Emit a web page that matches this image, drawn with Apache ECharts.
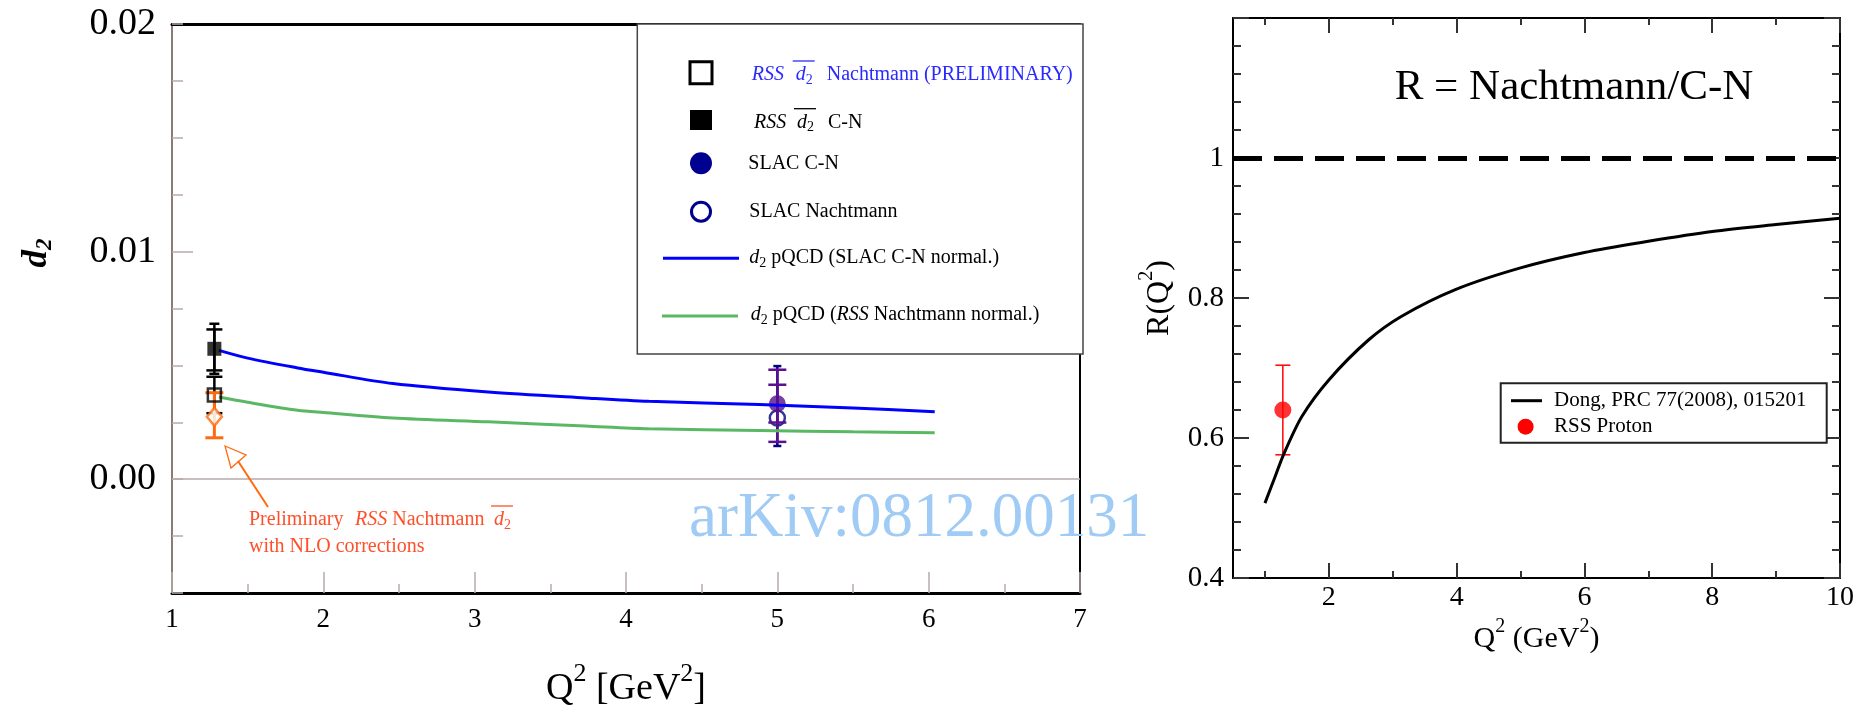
<!DOCTYPE html>
<html><head><meta charset="utf-8">
<script src="https://cdn.jsdelivr.net/npm/echarts@6/dist/echarts.min.js"></script>
<style>html,body{margin:0;padding:0;background:#fff}#c{width:1871px;height:707px}</style>
</head><body><div id="c"></div>
<script>
// ================= LEFT PANEL DATA (d2 vs Q^2) =================
const leftYLabels = [0, 0.01, 0.02];
const pqcdQ2      = [1.31, 1.5, 1.83, 2.0, 2.46, 3.09, 3.73, 4.15, 4.88, 5.5, 6.04];
const pqcdSlacCN  = [0.00566, 0.00532, 0.00489, 0.0047, 0.0042, 0.00383, 0.00357, 0.00342, 0.00328, 0.00313, 0.00296];
const pqcdRssNach = [0.00361, 0.00338, 0.00303, 0.00293, 0.00269, 0.00252, 0.00234, 0.00222, 0.00214, 0.00208, 0.00204];
const rssQ2 = 1.28;
const rssCN = 0.00573, rssCNStat = [0.00478, 0.00658], rssCNTot = [0.00463, 0.00683];
const rssNach = 0.0037, rssNachErr = [0.0029, 0.0045];
const rssNLO = 0.00274, rssNLOErr = [0.00182, 0.0038];
const slacQ2 = 5.0;
const slacCN = 0.00332, slacCNStat = [0.00249, 0.00415], slacCNTot = [0.00164, 0.00481];
const slacNach = 0.00269, slacNachErr = [0.00146, 0.00497];
const leftLongTick = [0.01];

// ================= RIGHT PANEL DATA (R vs Q^2) =================
const rightXMajor = [2, 4, 6, 8, 10];
const rightXMinor = [1, 3, 5, 7, 9];
const dongQ2 = [1.0, 1.16, 1.29, 1.58, 2.0, 2.62, 3.14, 3.98, 5.0, 6.0, 7.0, 8.0, 9.0, 10.0];
const dongR  = [0.507, 0.545, 0.576, 0.631, 0.683, 0.740, 0.774, 0.812, 0.843, 0.865, 0.881, 0.895, 0.905, 0.914];
const rssProtonQ2 = 1.28, rssProtonR = 0.640, rssProtonErr = [0.576, 0.704];
const unityR = 1;

// ================= helpers =================
const SERIF = '"Liberation Serif", "Times New Roman", serif';
const mctx = document.createElement('canvas').getContext('2d');
function measure(t, s, it) { mctx.font = (it ? 'italic ' : '') + s + 'px ' + SERIF; return mctx.measureText(t).width; }
function runText(yMid, color, pieces, base) {
  const els = []; let cx = 0, olStart = 0; base = base || 20;
  pieces.forEach(p => {
    const s = p.s || base;
    if (p.x !== undefined) cx = p.x;
    const w = measure(p.t, s, p.i);
    els.push({type: 'text', x: cx, y: yMid + (p.dy || 0), z: 100,
      style: {text: p.t, fontSize: s, fontStyle: p.i ? 'italic' : 'normal', fontFamily: SERIF, fill: color, align: 'left', verticalAlign: 'middle'}});
    if (p.ol === 's') olStart = cx;
    if (p.ol === 'e') els.push({type: 'line', z: 100, shape: {x1: olStart - 3, y1: yMid - 14, x2: cx + w + 2, y2: yMid - 14}, style: {stroke: color, lineWidth: 1.3}});
    cx += w;
  });
  return els;
}
function errBar(color, cap, width) {
  return function (params, api) {
    const x = api.value(0), a = api.coord([x, api.value(1)]), b = api.coord([x, api.value(2)]);
    const st = {stroke: color, lineWidth: width};
    return {type: 'group', children: [
      {type: 'line', shape: {x1: a[0], y1: a[1], x2: b[0], y2: b[1]}, style: st},
      {type: 'line', shape: {x1: a[0] - cap / 2, y1: a[1], x2: a[0] + cap / 2, y2: a[1]}, style: st},
      {type: 'line', shape: {x1: b[0] - cap / 2, y1: b[1], x2: b[0] + cap / 2, y2: b[1]}, style: st}
    ]};
  };
}
const pair = (xs, ys) => xs.map((x, i) => [x, ys[i]]);

const TICKL = '#b9a9a9';
const chart = echarts.init(document.getElementById('c'));

const graphic = [
  // left y-axis title
  {type: 'text', z: 100, x: 37, y: 253, rotation: Math.PI / 2,
    style: {text: '{d|d}{s|2}', align: 'center', verticalAlign: 'middle',
      rich: {d: {fontSize: 35, fontStyle: 'italic', fontWeight: 'bold', fontFamily: SERIF, fill: '#000', lineHeight: 40},
             s: {fontSize: 23, fontStyle: 'italic', fontWeight: 'bold', fontFamily: SERIF, fill: '#000', verticalAlign: 'bottom', lineHeight: 23}}}},
  // left legend box
  {type: 'rect', z: 50, shape: {x: 637.3, y: 24, width: 445.7, height: 330}, style: {fill: '#fff', stroke: '#444', lineWidth: 1.5}},
  {type: 'rect', z: 100, shape: {x: 690, y: 61.7, width: 22, height: 22}, style: {fill: '#fff', stroke: '#000', lineWidth: 3}},
  {type: 'rect', z: 100, shape: {x: 690, y: 110, width: 22, height: 20}, style: {fill: '#000'}},
  {type: 'circle', z: 100, shape: {cx: 701, cy: 163.3, r: 11}, style: {fill: '#000090'}},
  {type: 'circle', z: 100, shape: {cx: 701, cy: 211.7, r: 9.5}, style: {fill: 'none', stroke: '#000090', lineWidth: 3}},
  {type: 'line', z: 100, shape: {x1: 663, y1: 258.3, x2: 739, y2: 258.3}, style: {stroke: '#0000ff', lineWidth: 3}},
  {type: 'line', z: 100, shape: {x1: 662, y1: 316, x2: 738, y2: 316}, style: {stroke: '#5ab865', lineWidth: 3}},
  ...runText(75, '#2a2aff', [{t: 'RSS', i: 1, x: 751.7}, {t: 'd', i: 1, x: 795.7, ol: 's'}, {t: '2', s: 14, dy: 5, ol: 'e'}, {t: 'Nachtmann (PRELIMINARY)', x: 826.7}]),
  ...runText(122.7, '#000', [{t: 'RSS', i: 1, x: 754}, {t: 'd', i: 1, x: 797, ol: 's'}, {t: '2', s: 14, dy: 5, ol: 'e'}, {t: 'C-N', x: 828}]),
  ...runText(163.3, '#000', [{t: 'SLAC C-N', x: 748.3}]),
  ...runText(211.7, '#000', [{t: 'SLAC Nachtmann', x: 749.3}]),
  ...runText(258, '#000', [{t: 'd', i: 1, x: 749.3}, {t: '2', s: 14, dy: 5}, {t: ' pQCD (SLAC C-N normal.)'}]),
  ...runText(315, '#000', [{t: 'd', i: 1, x: 750.7}, {t: '2', s: 14, dy: 5}, {t: ' pQCD ('}, {t: 'RSS', i: 1}, {t: ' Nachtmann normal.)'}]),
  // annotation
  {type: 'line', z: 100, shape: {x1: 268, y1: 507, x2: 238, y2: 461}, style: {stroke: '#ff6a10', lineWidth: 2}},
  {type: 'polygon', z: 100, shape: {points: [[225, 446], [246, 455], [231, 468]]}, style: {fill: 'none', stroke: '#ff6a10', lineWidth: 1.3}},
  ...runText(520, '#ff4f2a', [{t: 'Preliminary', x: 249}, {t: 'RSS', i: 1, x: 355}, {t: ' Nachtmann'}, {t: 'd', i: 1, x: 494, ol: 's'}, {t: '2', s: 14, dy: 5, ol: 'e'}], 20),
  ...runText(547, '#ff4f2a', [{t: 'with NLO corrections', x: 249}], 20),
  // right legend
  {type: 'rect', z: 50, shape: {x: 1500.7, y: 383.3, width: 326, height: 59.4}, style: {fill: '#fff', stroke: '#222', lineWidth: 2}},
  {type: 'line', z: 100, shape: {x1: 1511, y1: 400.7, x2: 1542, y2: 400.7}, style: {stroke: '#000', lineWidth: 3}},
  {type: 'circle', z: 100, shape: {cx: 1525.6, cy: 426.7, r: 8}, style: {fill: '#ff0000'}},
  {type: 'text', z: 100, x: 1554, y: 400, style: {text: 'Dong, PRC 77(2008), 015201', fontSize: 21, fontFamily: SERIF, fill: '#000', verticalAlign: 'middle'}},
  {type: 'text', z: 100, x: 1554, y: 426, style: {text: 'RSS Proton', fontSize: 21, fontFamily: SERIF, fill: '#000', verticalAlign: 'middle'}},
  // right title
  {type: 'text', z: 100, x: 1574, y: 88, style: {text: 'R = Nachtmann/C-N', fontSize: 43, fontFamily: SERIF, fill: '#000', align: 'center', verticalAlign: 'middle'}},
  // watermark
  {type: 'text', z: 200, x: 689, y: 519, style: {text: 'arKiv:0812.00131', fontSize: 63, fontFamily: SERIF, fill: '#9fcbf5', align: 'left', verticalAlign: 'middle'}}
];

const supRich = (a, s, lh) => ({
  a: {fontSize: a, fontFamily: SERIF, color: '#000', lineHeight: lh},
  s: {fontSize: s, fontFamily: SERIF, color: '#000', verticalAlign: 'top', lineHeight: s}
});

chart.setOption({
  animation: false,
  backgroundColor: '#fff',
  grid: [
    {left: 172, top: 24, width: 908, height: 569, containLabel: false, outerBoundsMode: 'none'},
    {left: 1233, top: 18, width: 607, height: 560, containLabel: false, outerBoundsMode: 'none'}
  ],
  xAxis: [
    {gridIndex: 0, type: 'value', position: 'bottom', min: 1, max: 7, interval: 1,
      axisLine: {onZero: false, lineStyle: {color: '#000', width: 3}},
      axisTick: {inside: true, length: 21, lineStyle: {color: TICKL, width: 1.5}},
      minorTick: {show: true, splitNumber: 2, length: 9, lineStyle: {color: TICKL, width: 1.5}},
      splitLine: {show: false},
      axisLabel: {fontSize: 27, fontFamily: SERIF, color: '#000', margin: 13},
      name: '{a|Q}{s|2}{a| [GeV}{s|2}{a|]}', nameLocation: 'middle', nameGap: 68,
      nameTextStyle: {rich: supRich(38, 26, 56)}},
    {gridIndex: 0, type: 'value', position: 'top', min: 1, max: 7,
      axisLine: {onZero: false, lineStyle: {color: '#000', width: 3}},
      axisTick: {show: false}, axisLabel: {show: false}, splitLine: {show: false}},
    {gridIndex: 1, type: 'value', position: 'bottom', min: 0.5, max: 10,
      axisLine: {onZero: false, lineStyle: {color: '#000', width: 2}},
      axisTick: {inside: true, length: 15, customValues: rightXMajor, lineStyle: {color: '#333', width: 2}},
      axisLabel: {customValues: rightXMajor, fontSize: 28, fontFamily: SERIF, color: '#000', margin: 6},
      splitLine: {show: false},
      name: '{a|Q}{s|2}{a| (GeV}{s|2}{a|)}', nameLocation: 'middle', nameGap: 38,
      nameTextStyle: {rich: supRich(30, 20, 44)}},
    {gridIndex: 1, type: 'value', position: 'bottom', min: 0.5, max: 10,
      axisLine: {show: false}, axisLabel: {show: false}, splitLine: {show: false},
      axisTick: {inside: true, length: 7, customValues: rightXMinor, lineStyle: {color: '#333', width: 2}}},
    {gridIndex: 1, type: 'value', position: 'top', min: 0.5, max: 10,
      axisLine: {onZero: false, lineStyle: {color: '#000', width: 2}}, axisLabel: {show: false}, splitLine: {show: false},
      axisTick: {inside: true, length: 15, customValues: rightXMajor, lineStyle: {color: '#333', width: 2}}},
    {gridIndex: 1, type: 'value', position: 'top', min: 0.5, max: 10,
      axisLine: {show: false}, axisLabel: {show: false}, splitLine: {show: false},
      axisTick: {inside: true, length: 7, customValues: rightXMinor, lineStyle: {color: '#333', width: 2}}}
  ],
  yAxis: [
    {gridIndex: 0, type: 'value', position: 'left', min: -0.005, max: 0.02, interval: 0.0025,
      axisLine: {show: true, onZero: false, lineStyle: {color: '#8a7a7a', width: 2}},
      axisTick: {show: true, inside: true, length: 11, lineStyle: {color: TICKL, width: 1.5}},
      splitLine: {show: false},
      axisLabel: {customValues: leftYLabels, formatter: v => v.toFixed(2), fontSize: 38, fontFamily: SERIF, color: '#000', margin: 16}},
    {gridIndex: 0, type: 'value', position: 'right', min: -0.005, max: 0.02,
      axisLine: {show: true, onZero: false, lineStyle: {color: '#000', width: 2}},
      axisTick: {show: false}, axisLabel: {show: false}, splitLine: {show: false}},
    {gridIndex: 0, type: 'value', position: 'left', min: -0.005, max: 0.02,
      axisLine: {show: false}, axisLabel: {show: false}, splitLine: {show: false},
      axisTick: {show: true, inside: true, length: 21, customValues: leftLongTick, lineStyle: {color: TICKL, width: 1.5}}},
    {gridIndex: 1, type: 'value', position: 'left', min: 0.4, max: 1.2, interval: 0.2,
      axisLine: {show: true, onZero: false, lineStyle: {color: '#000', width: 2}},
      axisTick: {show: true, inside: true, length: 16, lineStyle: {color: '#333', width: 2}},
      minorTick: {show: true, splitNumber: 5, length: 8, lineStyle: {color: '#333', width: 2}},
      splitLine: {show: false},
      axisLabel: {showMaxLabel: false, fontSize: 29, fontFamily: SERIF, color: '#000', margin: 9},
      name: '{a|R(Q}{s|2}{a|)}', nameLocation: 'middle', nameGap: 50,
      nameTextStyle: {rich: supRich(32, 20, 46)}},
    {gridIndex: 1, type: 'value', position: 'right', min: 0.4, max: 1.2, interval: 0.2,
      axisLine: {show: true, onZero: false, lineStyle: {color: '#000', width: 2}},
      axisTick: {show: true, inside: true, length: 16, lineStyle: {color: '#333', width: 2}},
      minorTick: {show: true, splitNumber: 5, length: 8, lineStyle: {color: '#333', width: 2}},
      splitLine: {show: false}, axisLabel: {show: false}}
  ],
  series: [
    // ---- left panel ----
    {type: 'line', xAxisIndex: 0, yAxisIndex: 0, z: 3, data: pair(pqcdQ2, pqcdSlacCN), smooth: 0.3, showSymbol: false,
      lineStyle: {color: '#0000ff', width: 3},
      markLine: {silent: true, symbol: 'none', label: {show: false}, lineStyle: {color: TICKL, width: 1.5, type: 'solid'}, data: [{yAxis: 0}]}},
    {type: 'line', xAxisIndex: 0, yAxisIndex: 0, z: 3, data: pair(pqcdQ2, pqcdRssNach), smooth: 0.3, showSymbol: false,
      lineStyle: {color: '#5ab865', width: 3}},
    {type: 'custom', xAxisIndex: 0, yAxisIndex: 0, z: 2, renderItem: errBar('#000', 16, 2.5),
      data: [[rssQ2, rssCNStat[0], rssCNStat[1]], [rssQ2, rssNachErr[0], rssNachErr[1]]]},
    {type: 'custom', xAxisIndex: 0, yAxisIndex: 0, z: 2, renderItem: errBar('#000', 10, 2.5),
      data: [[rssQ2, rssCNTot[0], rssCNTot[1]]]},
    {type: 'custom', xAxisIndex: 0, yAxisIndex: 0, z: 4, renderItem: errBar('#ff6a10', 18, 3),
      data: [[rssQ2, rssNLOErr[0], rssNLOErr[1]]]},
    {type: 'custom', xAxisIndex: 0, yAxisIndex: 0, z: 2, renderItem: errBar('#000080', 8, 2.5),
      data: [[slacQ2, slacNachErr[0], slacNachErr[1]]]},
    {type: 'custom', xAxisIndex: 0, yAxisIndex: 0, z: 2, renderItem: errBar('#5a1090', 18, 2.5),
      data: [[slacQ2, slacCNStat[0], slacCNStat[1]], [slacQ2, slacCNTot[0], slacCNTot[1]]]},
    {type: 'scatter', xAxisIndex: 0, yAxisIndex: 0, z: 4, symbol: 'rect', symbolSize: 14,
      itemStyle: {color: '#000'}, data: [[rssQ2, rssCN]]},
    {type: 'scatter', xAxisIndex: 0, yAxisIndex: 0, z: 4, symbol: 'rect', symbolSize: 13,
      itemStyle: {color: 'rgba(0,0,0,0)', borderColor: '#000', borderWidth: 2.5}, data: [[rssQ2, rssNach]]},
    {type: 'scatter', xAxisIndex: 0, yAxisIndex: 0, z: 5, symbol: 'diamond', symbolSize: [15, 18],
      itemStyle: {color: '#fff', borderColor: '#ff6a10', borderWidth: 2.5}, data: [[rssQ2, rssNLO]]},
    {type: 'scatter', xAxisIndex: 0, yAxisIndex: 0, z: 1, symbol: 'circle', symbolSize: 15,
      itemStyle: {color: 'rgba(0,0,0,0)', borderColor: '#000080', borderWidth: 2.5}, data: [[slacQ2, slacNach]]},
    {type: 'scatter', xAxisIndex: 0, yAxisIndex: 0, z: 2, symbol: 'circle', symbolSize: 17,
      itemStyle: {color: '#55108a'}, data: [[slacQ2, slacCN]]},
    // ---- right panel ----
    {type: 'line', xAxisIndex: 2, yAxisIndex: 3, z: 3, data: pair(dongQ2, dongR), smooth: 0.3, showSymbol: false,
      lineStyle: {color: '#000', width: 3},
      markLine: {silent: true, symbol: 'none', label: {show: false}, lineStyle: {color: '#000', width: 5, type: [29, 12]}, data: [{yAxis: unityR}]}},
    {type: 'custom', xAxisIndex: 2, yAxisIndex: 3, z: 3, renderItem: errBar('#ff0000', 15, 1.5),
      data: [[rssProtonQ2, rssProtonErr[0], rssProtonErr[1]]]},
    {type: 'scatter', xAxisIndex: 2, yAxisIndex: 3, z: 4, symbol: 'circle', symbolSize: 17,
      itemStyle: {color: '#ff0000'}, data: [[rssProtonQ2, rssProtonR]]}
  ],
  graphic: graphic
});
</script></body></html>
